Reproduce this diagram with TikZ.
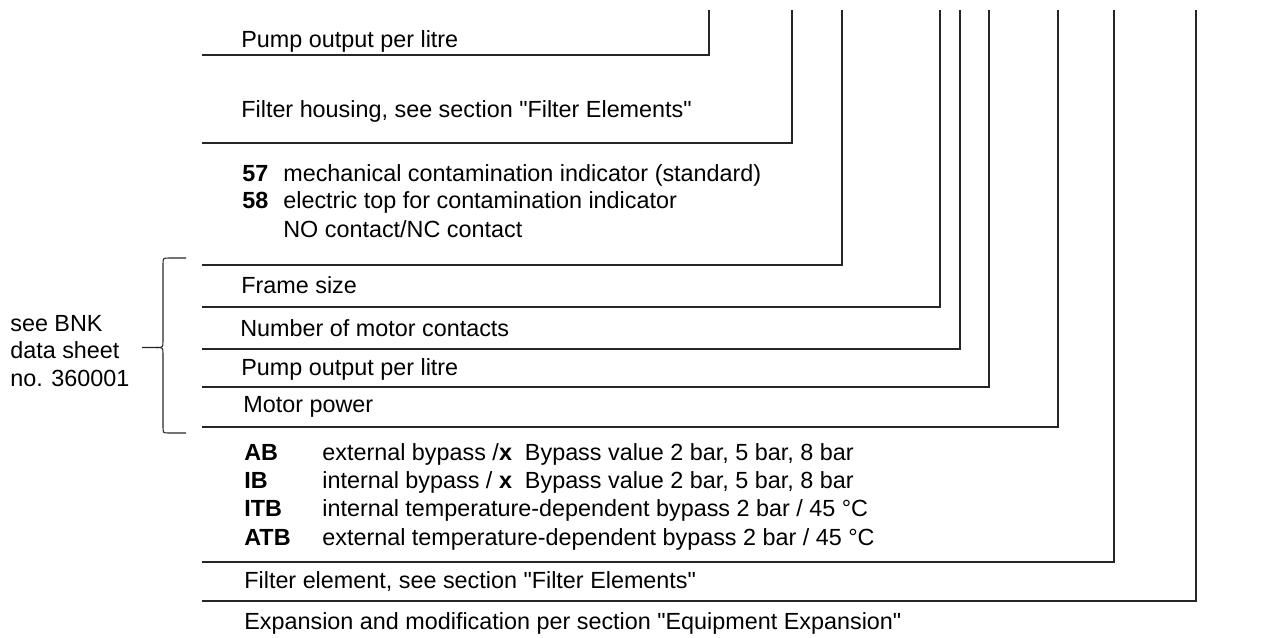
\documentclass[tikz,border=0pt]{standalone}
\usepackage{fontspec}
\setmainfont{Liberation Sans}
\tikzset{
  leader/.style={line width=0.6pt, draw=black!85},
  lbl/.style={anchor=base west, inner sep=0pt, font=\fontsize{13.3}{16}\selectfont},
}
\begin{document}
\begin{tikzpicture}[x=0.02cm, y=-0.02cm]
    \useasboundingbox (0,0) rectangle (1266,637);

    % Linee di richiamo (altezza, ascissa verticale)
    \foreach \y/\x in {55/709, 143/792, 265/842, 307/940, 349/960, 387/989, 427/1058, 562/1114, 601/1196}
        \draw[leader] (202,\y) -| (\x,10);

    % Etichette
    \node[lbl] (pumpA) at (241,47) {Pump output per litre};
    \node[lbl] (housing) at (241,117) {Filter housing, see section \textquotedbl Filter Elements\textquotedbl};
    \node[lbl] (c57) at (242,181) {\textbf{57}};
    \node[lbl] (t57) at (283,181) {mechanical contamination indicator (standard)};
    \node[lbl] (c58) at (242,208) {\textbf{58}};
    \node[lbl] (t58) at (283,208) {electric top for contamination indicator};
    \node[lbl] (nonc) at (283,237) {NO contact/NC contact};
    \node[lbl] (frame) at (241,293) {Frame size};
    \node[lbl] (contacts) at (240,336) {Number of motor contacts};
    \node[lbl] (pumpB) at (241,375) {Pump output per litre};
    \node[lbl] (power) at (243,412) {Motor power};

    % Bypass
    \node[lbl] (cAB) at (244,460) {\textbf{AB}};
    \node[lbl] (tAB) at (322,460) {external bypass /\textbf{x}~ Bypass value 2 bar, 5 bar, 8 bar};
    \node[lbl] (cIB) at (244,488) {\textbf{IB}};
    \node[lbl] (tIB) at (322,488) {internal bypass / \textbf{x}~ Bypass value 2 bar, 5 bar, 8 bar};
    \node[lbl] (cITB) at (244,516) {\textbf{ITB}};
    \node[lbl] (tITB) at (322,516) {internal temperature-dependent bypass 2 bar / 45 °C};
    \node[lbl] (cATB) at (244,545) {\textbf{ATB}};
    \node[lbl] (tATB) at (322,545) {external temperature-dependent bypass 2 bar / 45 °C};

    \node[lbl] (element) at (244,588) {Filter element, see section \textquotedbl Filter Elements\textquotedbl};
    \node[lbl] (expansion) at (244,629) {Expansion and modification per section \textquotedbl Equipment Expansion\textquotedbl};

    % Parentesi graffa e nota
    \draw[leader] (186,258) -- (169,258) .. controls (163,258) .. (163,264) -- (163,341)
        .. controls (163,347.5) .. (156,347.5) -- (142,347.5);
    \draw[leader] (156,347.5) .. controls (163,347.5) .. (163,354) -- (163,427)
        .. controls (163,433) .. (169,433) -- (186,433);
    \node[lbl] (bnk1) at (10,331) {see BNK};
    \node[lbl] (bnk2) at (10,358) {data sheet};
    \node[lbl] (bnk3) at (10,386) {no. 360001};
\end{tikzpicture}
\end{document}
